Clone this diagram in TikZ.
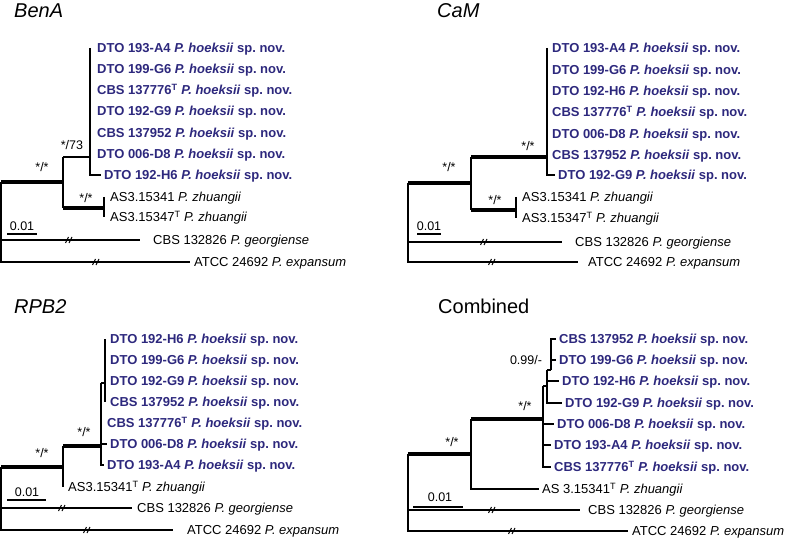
\documentclass[tikz,border=0pt]{standalone}
\usepackage{fontspec}
\setmainfont{Liberation Sans}
\frenchspacing
\definecolor{HoekBlue}{RGB}{45, 40, 125}
\newcommand{\holo}{\textsuperscript{T}}
\newcommand{\hoek}{\textit{P. hoeksii} sp. nov.}
\tikzset{
  leaf/.style={anchor=west, inner xsep=3pt, inner ysep=0pt, text height=9.4pt, text depth=0pt, font=\fontsize{13}{15}\selectfont},
  newsp/.style={leaf, text=HoekBlue, font=\fontsize{13}{15}\selectfont\bfseries},
  supp/.style={inner sep=0pt, text height=9pt, text depth=0pt, font=\fontsize{12.5}{14}\selectfont},
  gene/.style={anchor=base west, inner sep=0pt, font=\fontsize{20}{24}\selectfont},
  br/.style={line width=1.1pt},
  trunk/.style={line width=4pt},
}
\begin{document}
\begin{tikzpicture}[x=1pt, y=-1pt]
        \useasboundingbox (0,0) rectangle (785,540);
        % BenA
        \node[gene] (benT) at (14,18) {\itshape BenA};
        \foreach \y/\n/\s in {48/1/DTO 193-A4, 69/2/DTO 199-G6, 90/3/CBS 137776\holo, 111/4/DTO 192-G9, 133/5/CBS 137952, 154/6/DTO 006-D8} {
            \node[newsp] (ben\n) at (94,\y) {\s\ \hoek};
        }
        \node[newsp] (ben7) at (101,175) {DTO 192-H6 \hoek};
        \node[leaf] (benz1) at (107,197) {AS3.15341 \textit{P. zhuangii}};
        \node[leaf] (benz2) at (107,217) {AS3.15347\holo{} \textit{P. zhuangii}};
        \node[leaf] (beno1) at (150,240) {CBS 132826 \textit{P. georgiense}};
        \node[leaf] (beno2) at (191,262) {ATCC 24692 \textit{P. expansum}};
        \coordinate (benR) at (1,182);
        \coordinate (benN) at (63,182);
        \coordinate (benU) at (63,157);
        \coordinate (benL) at (63,208);
        \coordinate (benQ) at (90,48);
        \coordinate (benZ) at (104,208);
        \draw[trunk] (benR) -- (benN);
        \draw[br] (benU) -- (benL);
        \draw[br] (benU) -- (benU -| benQ);
        \draw[br] (benQ) |- (ben7.west);
        \draw[trunk] (benL) -- (benZ);
        \draw[br] (benZ |- benz1) -- (benZ |- benz2);
        \draw[br] (benR) |- ([xshift=-1pt]beno2.west);
        \draw[br] (benR |- beno1) -- ([xshift=-10pt]beno1.west);
        \node[supp] (bens1) at (42,167) {*/*};
        \node[supp] (bens2) at (72,145) {*/73};
        \node[supp] (bens3) at (86,198) {*/*};
        \node[supp] (bensc) at (22,226) {0.01};
        \draw[br] (7,234) -- (37,234);
        \coordinate (benK1) at (70,240);
        \coordinate (benK2) at (97,262);

        % CaM
        \node[gene] (camT) at (437,18) {\itshape CaM};
        \foreach \y/\n/\s in {48/1/DTO 193-A4, 70/2/DTO 199-G6, 91/3/DTO 192-H6, 112/4/CBS 137776\holo, 134/5/DTO 006-D8, 155/6/CBS 137952} {
            \node[newsp] (cam\n) at (549,\y) {\s\ \hoek};
        }
        \node[newsp] (cam7) at (555,175) {DTO 192-G9 \hoek};
        \node[leaf] (camz1) at (519,197) {AS3.15341 \textit{P. zhuangii}};
        \node[leaf] (camz2) at (519,218) {AS3.15347\holo{} \textit{P. zhuangii}};
        \node[leaf] (camo1) at (572,242) {CBS 132826 \textit{P. georgiense}};
        \node[leaf] (camo2) at (585,262) {ATCC 24692 \textit{P. expansum}};
        \coordinate (camR) at (408,183);
        \coordinate (camN) at (471,183);
        \coordinate (camU) at (471,157);
        \coordinate (camL) at (471,210);
        \coordinate (camQ) at (547,48);
        \coordinate (camZ) at (516,210);
        \draw[trunk] (camR) -- (camN);
        \draw[br] (camU) -- (camL);
        \draw[trunk] (camU) -- (camU -| camQ);
        \draw[br] (camQ) |- (cam7.west);
        \draw[trunk] (camL) -- (camZ);
        \draw[br] (camZ |- camz1) -- (camZ |- camz2);
        \draw[br] (camR) |- ([xshift=-7pt]camo2.west);
        \draw[br] (camR |- camo1) -- ([xshift=-10pt]camo1.west);
        \node[supp] (cams1) at (449,167) {*/*};
        \node[supp] (cams2) at (528,146) {*/*};
        \node[supp] (cams3) at (495,200) {*/*};
        \node[supp] (camsc) at (429,226) {0.01};
        \draw[br] (417,234) -- (441,234);
        \coordinate (camK1) at (485,242);
        \coordinate (camK2) at (493,262);

        % RPB2
        \node[gene] (rpbT) at (14,313) {\itshape RPB2};
        \foreach \y/\n/\s in {339/1/DTO 192-H6, 360/2/DTO 199-G6, 381/3/DTO 192-G9, 402/4/CBS 137952} {
            \node[newsp] (rpb\n) at (107,\y) {\s\ \hoek};
        }
        \node[newsp] (rpb5) at (104,423) {CBS 137776\holo\ \hoek};
        \node[newsp] (rpb6) at (107,444) {DTO 006-D8 \hoek};
        \node[newsp] (rpb7) at (104,465) {DTO 193-A4 \hoek};
        \node[leaf] (rpbz) at (65,487) {AS3.15341\holo{} \textit{P. zhuangii}};
        \node[leaf] (rpbo1) at (134,508) {CBS 132826 \textit{P. georgiense}};
        \node[leaf] (rpbo2) at (184,530) {ATCC 24692 \textit{P. expansum}};
        \coordinate (rpbR) at (1,467);
        \coordinate (rpbN) at (63,467);
        \coordinate (rpbU) at (63,446);
        \coordinate (rpbW) at (101,383);
        \coordinate (rpbX) at (105,339);
        \draw[trunk] (rpbR) -- (rpbN);
        \draw[br] (rpbU) -- (rpbU |- rpbz);
        \draw[trunk] (rpbU) -- (rpbU -| rpbW);
        \draw[br] (rpbW) |- (rpb7.west);
        \draw[br] (rpbW |- rpb6) -- (rpb6.west);
        \draw[br] (rpbW) -- (rpbW -| rpbX);
        \draw[br] (rpbX) -- (rpbX |- rpb4);
        \draw[br] (rpbR) |- ([xshift=-11pt]rpbo2.west);
        \draw[br] (rpbR |- rpbo1) -- ([xshift=-2pt]rpbo1.west);
        \node[supp] (rpbs1) at (42,453) {*/*};
        \node[supp] (rpbs2) at (84,432) {*/*};
        \node[supp] (rpbsc) at (27,492) {0.01};
        \draw[br] (7,500) -- (46,500);
        \coordinate (rpbK1) at (63,508);
        \coordinate (rpbK2) at (88,530);

        % Combined
        \node[gene] (comT) at (438,313) {Combined};
        \node[newsp] (com1) at (556,339) {CBS 137952 \hoek};
        \node[newsp] (com2) at (556,360) {DTO 199-G6 \hoek};
        \node[newsp] (com3) at (559,381) {DTO 192-H6 \hoek};
        \node[newsp] (com4) at (562,403) {DTO 192-G9 \hoek};
        \node[newsp] (com5) at (554,424) {DTO 006-D8 \hoek};
        \node[newsp] (com6) at (551,445) {DTO 193-A4 \hoek};
        \node[newsp] (com7) at (551,467) {CBS 137776\holo\ \hoek};
        \node[leaf] (comz) at (539,489) {AS 3.15341\holo{} \textit{P. zhuangii}};
        \node[leaf] (como1) at (585,510) {CBS 132826 \textit{P. georgiense}};
        \node[leaf] (como2) at (629,531) {ATCC 24692 \textit{P. expansum}};
        \coordinate (comR) at (408,454);
        \coordinate (comN) at (471,454);
        \coordinate (comU) at (471,419);
        \coordinate (comV) at (543,386);
        \coordinate (comW) at (547,370);
        \coordinate (comX) at (551,339);
        \draw[trunk] (comR) -- (comN);
        \draw[br] (comU) |- (comz.west);
        \draw[trunk] (comU) -- (comU -| comV);
        \draw[br] (comV) |- (com7.west);
        \draw[br] (comV |- com5) -- (com5.west);
        \draw[br] (comV |- com6) -- (com6.west);
        \draw[br] (comV) -- (comV -| comW);
        \draw[br] (comW) |- (com4.west);
        \draw[br] (comW |- com3) -- (com3.west);
        \draw[br] (comW) -- (comW -| comX);
        \draw[br] (comW -| comX) |- (com1.west);
        \draw[br] (comX |- com2) -- (com2.west);
        \draw[br] (comR) |- ([xshift=-1pt]como2.west);
        \draw[br] (comR |- como1) -- ([xshift=-5pt]como1.west);
        \node[supp] (coms1) at (452,442) {*/*};
        \node[supp] (coms2) at (525,406) {*/*};
        \node[supp] (coms3) at (526,360) {0.99/-};
        \node[supp] (comsc) at (440,497) {0.01};
        \draw[br] (413,507) -- (463,507);
        \coordinate (comK1) at (493,510);
        \coordinate (comK2) at (513,531);

        % break marks on the long outgroup branches
        \foreach \p in {benK1, benK2, camK1, camK2, rpbK1, rpbK2, comK1, comK2} {
            \draw[br] ([xshift=-4.5pt,yshift=-3pt]\p) -- ++(3pt,6pt);
            \draw[br] ([xshift=-1pt,yshift=-3pt]\p) -- ++(3pt,6pt);
        }
    \end{tikzpicture}
\end{document}
